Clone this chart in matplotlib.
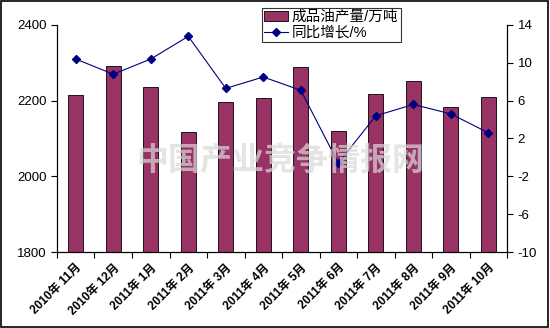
import numpy as np
import matplotlib
matplotlib.use("Agg")
import matplotlib.pyplot as plt
from matplotlib.patches import Rectangle

plt.rcParams["font.family"] = ["Liberation Sans", "Noto Sans CJK SC", "DejaVu Sans"]
plt.rcParams["axes.unicode_minus"] = False

months = ["2010年 11月", "2010年 12月", "2011年 1月", "2011年 2月", "2011年 3月",
          "2011年 4月", "2011年 5月", "2011年 6月", "2011年 7月", "2011年 8月",
          "2011年 9月", "2011年 10月"]
output = [2214, 2292, 2236, 2117, 2196, 2207, 2289, 2120, 2217, 2252, 2183, 2209]
growth = [10.4, 8.8, 10.4, 12.8, 7.3, 8.5, 7.1, -0.6, 4.4, 5.6, 4.6, 2.6]

bar_color = "#993366"
line_color = "#000080"

fig = plt.figure(figsize=(5.5, 3.28), dpi=100)
fig.patches.append(Rectangle((0.002, 0.003), 0.995, 0.994, transform=fig.transFigure,
                             fill=False, edgecolor="black", linewidth=1.2))

ax = fig.add_axes([0.1036, 0.2317, 0.8184, 0.6921])
x = np.arange(len(months))
bars = ax.bar(x, output, width=0.4, color=bar_color, edgecolor="black", linewidth=0.6,
              label="成品油产量/万吨", zorder=2)
ax.set_ylim(1800, 2400)
ax.set_yticks([1800, 2000, 2200, 2400])
ax.set_xlim(-0.5, len(months) - 0.5)
ax.set_xticks(np.arange(-0.5, len(months), 1.0))
ax.set_xticklabels([])
ax.set_xticks(x, minor=True)
ax.set_xticklabels(months, minor=True, rotation=45, ha="right", rotation_mode="anchor",
                   fontsize=8.5, fontweight="bold")
ax.tick_params(axis="x", which="major", length=4, direction="out")
ax.tick_params(axis="x", which="minor", length=0, pad=7)
ax.tick_params(axis="y", length=4, direction="out", labelsize=9.5)
ax.spines["top"].set_visible(False)

ax2 = ax.twinx()
line, = ax2.plot(x, growth, color=line_color, linewidth=0.8, marker="D", markersize=4,
                 label="同比增长/%", zorder=3)
ax2.set_ylim(-10, 14)
ax2.set_yticks(np.arange(-10, 15, 4))
ax2.tick_params(axis="y", length=4, direction="out", labelsize=9.5)
ax2.spines["top"].set_visible(False)

fig.text(0.51, 0.51, "中国产业竞争情报网", fontsize=23, color="#d9d9d9", alpha=0.7,
         ha="center", va="center", fontweight="bold", zorder=0,
         family=["Noto Sans CJK SC"])

leg = fig.legend([bars, line], ["成品油产量/万吨", "同比增长/%"],
                 loc="upper left", bbox_to_anchor=(262 / 550, 1 - 8 / 328),
                 fontsize=10.5, frameon=True, fancybox=False, borderpad=0.15,
                 handlelength=1.6, handletextpad=0.3, labelspacing=0.1,
                 borderaxespad=0)
leg.get_frame().set_edgecolor("black")
leg.get_frame().set_linewidth(0.8)

fig.savefig("out.png", dpi=100)
